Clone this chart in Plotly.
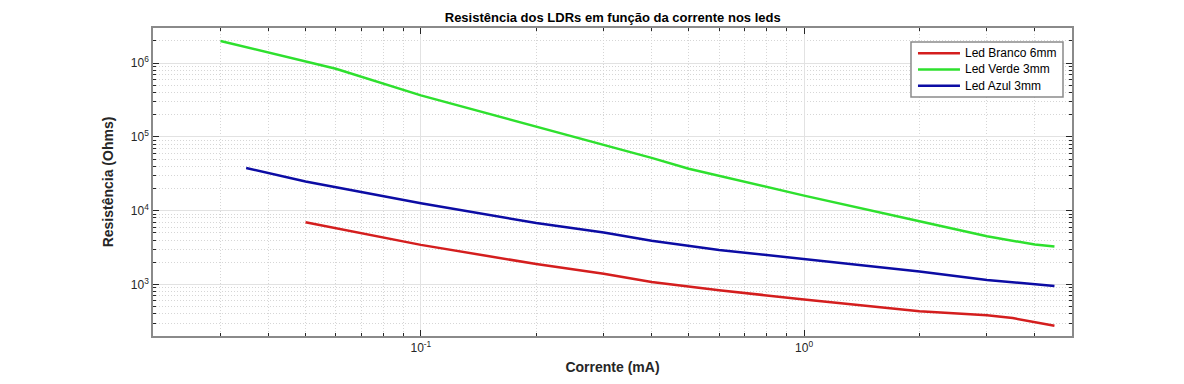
import plotly.graph_objects as go

# Data
branco_x = [0.05, 0.1, 0.2, 0.3, 0.4, 0.6, 1, 2, 3, 3.5, 4.5]
branco_y = [6950, 3440, 1890, 1400, 1080, 836, 624, 433, 382, 350, 276]

verde_x = [0.03, 0.06, 0.1, 0.2, 0.3, 0.4, 0.5, 1, 2, 3, 4, 4.5]
verde_y = [2.0e6, 8.4e5, 3.66e5, 1.38e5, 7.7e4, 5.2e4, 3.7e4, 1.6e4, 7.2e3, 4.5e3, 3.47e3, 3.27e3]

azul_x = [0.035, 0.05, 0.1, 0.2, 0.3, 0.4, 0.6, 1, 2, 3, 4, 4.5]
azul_y = [3.8e4, 2.49e4, 1.26e4, 6.8e3, 5.07e3, 3.9e3, 2.94e3, 2.19e3, 1.5e3, 1.15e3, 1.0e3, 955]

series_names = ["Led Branco 6mm", "Led Verde 3mm", "Led Azul 3mm"]
series_colors = ["#d41e1e", "#2ee02e", "#0c0ca4"]

x_tickvals = [0.1, 1]
x_ticktext = ["10<sup>-1</sup>", "10<sup>0</sup>"]
y_tickvals = [1e3, 1e4, 1e5, 1e6]
y_ticktext = ["10<sup>3</sup>", "10<sup>4</sup>", "10<sup>5</sup>", "10<sup>6</sup>"]

title = "Resistência dos LDRs em função da corrente nos leds"
xlabel = "Corrente (mA)"
ylabel = "Resistência (Ohms)"

FONT = "Liberation Sans, Arial, sans-serif"

x_minor = [m * 10 ** e for e in range(-2, 1) for m in range(2, 10)]
y_minor = [m * 10 ** e for e in range(2, 7) for m in range(2, 10)]

fig = go.Figure()
for xs, ys, name, color in zip([branco_x, verde_x, azul_x], [branco_y, verde_y, azul_y],
                               series_names, series_colors):
    fig.add_trace(go.Scatter(x=xs, y=ys, mode="lines", name=name,
                             line=dict(color=color, width=2.5)))

axis_common = dict(
    showline=True, linecolor="#8a8a8a", linewidth=1.5, mirror="ticks",
    ticks="inside", ticklen=6, tickcolor="#262626", tickwidth=1,
    showgrid=True, gridcolor="#e2e2e2", gridwidth=1,
    zeroline=False, automargin=False,
    tickfont=dict(family=FONT, size=12, color="#262626"),
)

minor_common = dict(tickmode="array", ticks="inside", ticklen=3, tickcolor="#262626",
                    showgrid=True, gridcolor="#d6d6d6", griddash="1px,2px", gridwidth=1)

fig.update_xaxes(
    type="log", range=[-1.699, 0.699],
    tickmode="array", tickvals=x_tickvals, ticktext=x_ticktext,
    minor=dict(tickvals=x_minor, **minor_common),
    title=dict(text="<b>" + xlabel + "</b>", font=dict(family=FONT, size=14, color="#262626"), standoff=8),
    **axis_common,
)
fig.update_yaxes(
    type="log", range=[2.301, 6.477],
    tickmode="array", tickvals=y_tickvals, ticktext=y_ticktext,
    minor=dict(tickvals=y_minor, **minor_common),
    title=dict(text="<b>" + ylabel + "</b>", font=dict(family=FONT, size=14, color="#262626"), standoff=14),
    **axis_common,
)

# Legend box (MATLAB style), drawn in axes-domain coordinates
fig.add_shape(type="rect", xref="x domain", yref="y domain",
              x0=0.8248, x1=0.9902, y0=0.776, y1=0.9545,
              line=dict(color="#8a8a8a", width=1.5), fillcolor="white", layer="above")
legend_rows = [0.9179, 0.8653, 0.8127]
for row, name, color in zip(legend_rows, series_names, series_colors):
    fig.add_shape(type="line", xref="x domain", yref="y domain",
                  x0=0.8324, x1=0.8781, y0=row, y1=row,
                  line=dict(color=color, width=2.5), layer="above")
    fig.add_annotation(xref="x domain", yref="y domain", x=0.8814, y=row,
                       xanchor="left", yanchor="middle", showarrow=False,
                       text=name, font=dict(family=FONT, size=12, color="black"))

fig.update_layout(
    width=1184, height=384,
    margin=dict(l=153, r=112, t=28, b=48),
    paper_bgcolor="white", plot_bgcolor="white",
    title=dict(text="<b>" + title + "</b>", x=0.5175, xanchor="center", y=0.955, yanchor="middle",
               font=dict(family=FONT, size=13, color="black")),
    font=dict(family=FONT, color="#262626"),
    showlegend=False,
)

fig.write_html("out.html", config={"displayModeBar": False},
               post_script="document.body.style.margin='0';")
